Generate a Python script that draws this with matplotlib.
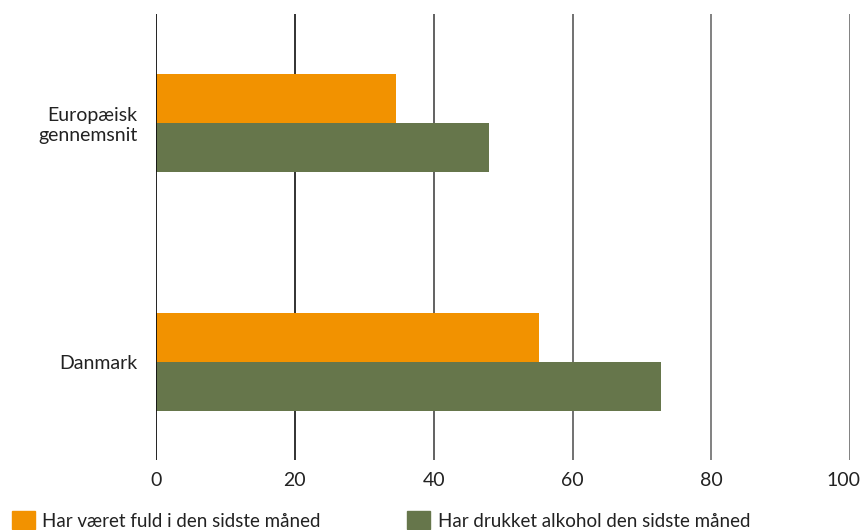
import matplotlib.pyplot as plt
from matplotlib.patches import Patch
from matplotlib.transforms import ScaledTranslation

plt.rcParams['font.family'] = ['Lato', 'DejaVu Sans']

categories = ['Danmark', 'Europæisk\ngennemsnit']
fuld = [55.2, 34.6]
drukket = [72.7, 47.9]
ticks = [0, 20, 40, 60, 80, 100]
legend_labels = ['Har været fuld i den sidste måned', 'Har drukket alkohol den sidste måned']

orange = '#F29200'
green = '#66764B'

fig = plt.figure(figsize=(8.6, 5.3), dpi=100)
ax = fig.add_axes([0.1814, 0.132, 0.8072, 0.8416])

y = list(range(len(categories)))
h = 0.205
ax.barh([v + h / 2 for v in y], fuld, height=h, color=orange, zorder=2)
ax.barh([v - h / 2 for v in y], drukket, height=h, color=green, zorder=2)

grid_colors = ['#111111', '#222222', '#555555', '#666666', '#777777', '#777777']
for t, c in zip(ticks, grid_colors):
    ax.axvline(t, color=c, lw=1.3, zorder=3 if t == 0 else 1)

ax.set_xlim(0, 100)
ax.set_ylim(-0.41, 1.456)
ax.set_xticks(ticks)
ax.set_yticks(y)
ax.set_yticklabels(categories, fontsize=14, color='#222222', ha='right', multialignment='right')
ax.tick_params(axis='y', length=0, pad=13.5)
ax.tick_params(axis='x', length=0, pad=8.5, labelsize=14, labelcolor='#222222')
for s in ax.spines.values():
    s.set_visible(False)

# last tick label sits a little left of its line, as in the original
last = ax.get_xticklabels()[-1]
last.set_transform(last.get_transform() + ScaledTranslation(-5 / 72, 0, fig.dpi_scale_trans))

handles = [Patch(color=orange), Patch(color=green)]
fig.legend(handles, legend_labels, loc='lower left', bbox_to_anchor=(-0.006, -0.031),
           ncol=2, frameon=False, fontsize=13.5, handlelength=1.23, handleheight=1.1,
           handletextpad=0.4, columnspacing=4.6, labelcolor='#222222')

fig.savefig('out.png', dpi=100)
